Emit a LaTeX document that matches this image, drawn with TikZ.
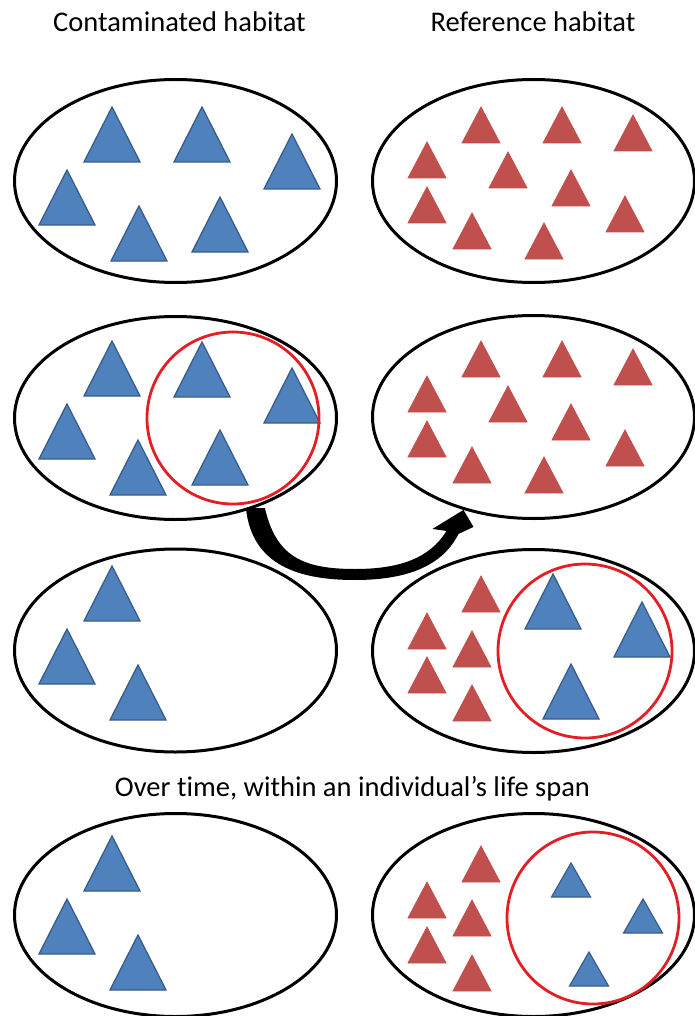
\documentclass[tikz,border=0pt]{standalone}
\usepackage{fontspec}
\setmainfont[Ligatures=NoCommon]{Carlito}
\usetikzlibrary{shapes.geometric,calc}

\definecolor{bluefill}{HTML}{4F81BD}
\definecolor{blueline}{HTML}{385D8A}
\definecolor{redfill}{HTML}{C0504D}
\definecolor{ringred}{HTML}{E31E24}

\tikzset{
  habitat/.style={draw=black, line width=3pt, shape=ellipse,
    minimum width=322pt, minimum height=203pt, inner sep=0pt},
  heading/.style={font=\fontsize{28.5}{34}\selectfont, anchor=base, inner sep=0pt},
  ring/.style={draw=ringred, line width=2.8pt},
  bigblue/.pic={\filldraw[fill=bluefill, draw=blueline, line width=1.3pt, line join=miter]
      (-28,0) -- (28,0) -- (0,-55) -- cycle;},
  smallblue/.pic={\filldraw[fill=bluefill, draw=blueline, line width=1.2pt, line join=miter]
      (-19.5,0) -- (19.5,0) -- (0,-34) -- cycle;},
  redtri/.pic={\filldraw[fill=redfill, draw=redfill, line width=0.8pt, line join=miter]
      (-19,0) -- (19,0) -- (0,-36) -- cycle;},
}

\begin{document}
\begin{tikzpicture}[x=1pt, y=-1pt]
\useasboundingbox (0,0) rectangle (695,1016);

% column headings
\node[heading] (hcont) at (179.5,32) {Contaminated habitat};
\node[heading] (href)  at (533,32) {Reference habitat};
\node[heading] (htime) at (352.5,796) {Over time, within an individual’s life span};

% habitats
\node[habitat] (c1) at (175.5,181) {};
\node[habitat] (r1) at (533.5,181) {};
\node[habitat] (c2) at (175.5,418) {};
\node[habitat] (r2) at (533.5,417) {};
\node[habitat] (c3) at (175.5,650.5) {};
\node[habitat] (r3) at (533.5,651) {};
\node[habitat] (c4) at (175.5,915) {};
\node[habitat] (r4) at (533.5,915) {};

% row 1
\foreach \p in {(112,162),(202,162),(292,189),(67,225),(139,261),(220,252)}
  \pic at \p {bigblue};
\foreach \p in {(481,143),(562,143),(633,151),(427,178),(508,188),(571,206),
                (427,223),(625,232),(472,249),(544,259)}
  \pic at \p {redtri};

% row 2
\foreach \p in {(112,396),(202,397),(292,423),(67,459),(138,495),(220,485)}
  \pic at \p {bigblue};
\foreach \p in {(481,377),(562,377),(633,385),(427,412),(508,422),(571,440),
                (427,457),(625,466),(472,483),(544,493)}
  \pic at \p {redtri};
\draw[ring] (233,418) circle[radius=86];

% row 3
\foreach \p in {(112,621),(67,684),(138,720)}
  \pic at \p {bigblue};
\foreach \p in {(481,612),(427,649),(472,667),(427,693),(472,721)}
  \pic at \p {redtri};
\foreach \p in {(553,629),(642,657),(571,719)}
  \pic at \p {bigblue};
\draw[ring] (585,651) circle[radius=87];

% row 4
\foreach \p in {(112,891),(67,954),(138,990)}
  \pic at \p {bigblue};
\foreach \p in {(481,882),(427,918),(472,936),(427,963),(472,991)}
  \pic at \p {redtri};
\foreach \p in {(571,897),(643,933),(589,986)}
  \pic at \p {smallblue};
\draw[ring] (593,918) circle[radius=86];

% transplant arrow from the contaminated to the reference habitat
\coordinate (aS) at (c2.-49.5);
\coordinate (aT) at (r2.233.3);
\fill[black]
  ($(aS)+(-8,0)$) .. controls (252,566) and (300,580) .. (355,580)
  .. controls (412,580) and (444,563) .. ($(aT)+(-5,24)$)
  -- ($(aT)+(10,17)$) -- (aT) -- ($(aT)+(-31,19)$) -- ($(aT)+(-17,21)$)
  .. controls (430,558) and (400,569) .. (355,569)
  .. controls (302,569) and (276,556) .. ($(aS)+(11,0)$) -- cycle;
\end{tikzpicture}
\end{document}
